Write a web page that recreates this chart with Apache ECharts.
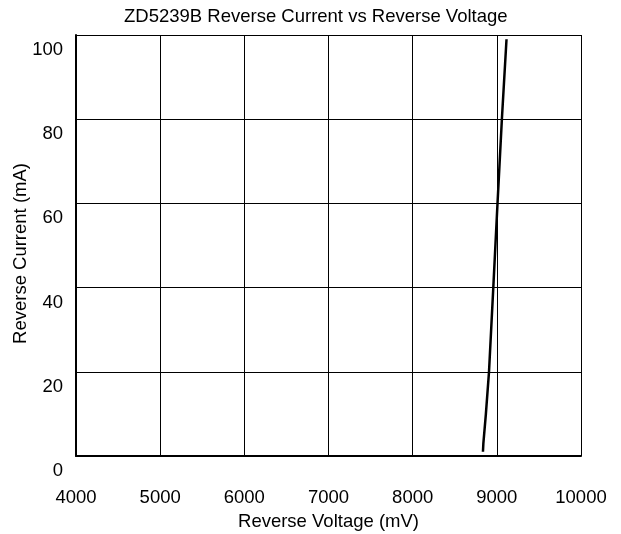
<!DOCTYPE html>
<html>
<head>
<meta charset="utf-8">
<script src="https://cdn.jsdelivr.net/npm/echarts@6/dist/echarts.min.js"></script>
<style>html,body{margin:0;padding:0;background:#fff}#c{width:621px;height:534px}</style>
</head>
<body>
<div id="c"></div>
<script>
var titleText = 'ZD5239B Reverse Current vs Reverse Voltage';
var xName = 'Reverse Voltage (mV)';
var yName = 'Reverse Current (mA)';
var voltage = [8835, 8840, 8870, 8907, 8958, 9008, 9060, 9115];
var current = [1, 3, 10, 20, 40, 60, 80, 99];
var xTicks = {min: 4000, max: 10000, interval: 1000};
var yTicks = {min: 0, max: 100, interval: 20};

var pts = voltage.map(function (v, i) { return [v, current[i]]; });
var font = 'Liberation Sans, Arial, sans-serif';
var fs = 18.5;
var chart = echarts.init(document.getElementById('c'), null, {renderer: 'canvas'});
chart.setOption({
  backgroundColor: '#fff',
  animation: false,
  title: {
    text: titleText, left: 124, top: 7, padding: 0,
    textStyle: {fontFamily: font, fontSize: fs, fontWeight: 'normal', color: '#000'}
  },
  grid: {left: 76, right: 40, top: 35, bottom: 78, containLabel: false, outerBoundsMode: 'none'},
  xAxis: {
    type: 'value', min: xTicks.min, max: xTicks.max, interval: xTicks.interval,
    name: xName, nameLocation: 'middle', nameGap: 56, nameMoveOverlap: false,
    nameTextStyle: {fontFamily: font, fontSize: fs, color: '#000'},
    axisLine: {show: true, lineStyle: {color: '#000', width: 2}},
    axisTick: {show: false},
    axisLabel: {fontFamily: font, fontSize: fs, color: '#000', margin: 32,
      formatter: function (v) { return String(v); }},
    splitLine: {show: true, lineStyle: {color: '#000', width: 1}}
  },
  yAxis: {
    type: 'value', min: yTicks.min, max: yTicks.max, interval: yTicks.interval,
    name: yName, nameLocation: 'middle', nameGap: 46, nameMoveOverlap: false,
    nameTextStyle: {fontFamily: font, fontSize: fs, color: '#000', padding: [0, 16, 0, 0]},
    axisLine: {show: true, lineStyle: {color: '#000', width: 2}},
    axisTick: {show: false},
    axisLabel: {fontFamily: font, fontSize: fs, color: '#000', margin: 13,
      verticalAlign: 'top', lineHeight: 30},
    splitLine: {show: true, lineStyle: {color: '#000', width: 1}}
  },
  series: [{
    type: 'line', data: pts, showSymbol: false, symbol: 'none',
    lineStyle: {color: '#000', width: 2.5}, smooth: false
  }]
});
</script>
</body>
</html>
